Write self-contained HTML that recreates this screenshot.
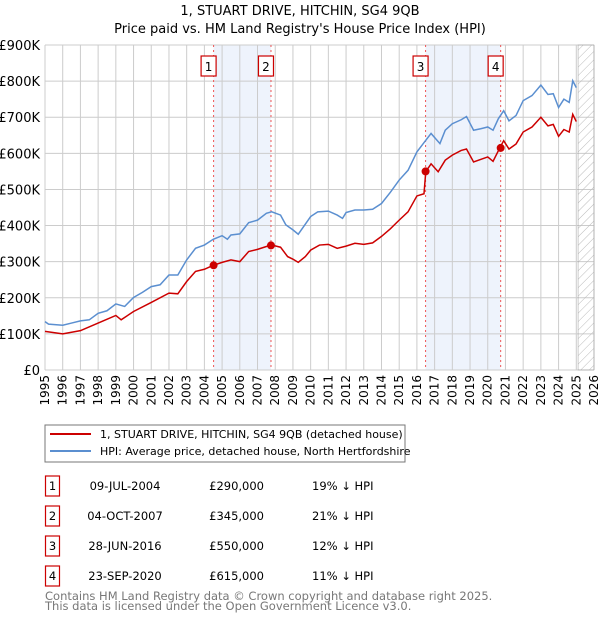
<!DOCTYPE html>
<html><head><meta charset="utf-8"><style>
body{margin:0;background:#fff;font-family:"Liberation Sans","DejaVu Sans",sans-serif;}
svg text{font-family:"DejaVu Sans","Liberation Sans",sans-serif;}
</style></head><body>
<svg id="chart" width="600" height="620" viewBox="0 0 600 620" xmlns="http://www.w3.org/2000/svg">
<defs><pattern id="hatch" width="6" height="6" patternUnits="userSpaceOnUse" patternTransform="rotate(45)"><line x1="0" y1="0" x2="0" y2="6" stroke="#bbb" stroke-width="1"/></pattern></defs>
<text x="300" y="15" text-anchor="middle" font-size="13">1, STUART DRIVE, HITCHIN, SG4 9QB</text>
<text x="300" y="33" text-anchor="middle" font-size="13">Price paid vs. HM Land Registry's House Price Index (HPI)</text>
<g id="grid"></g><g id="marks"></g><g id="axes"></g>
<g>
<rect x="45" y="425" width="360" height="37" fill="#fff" stroke="#777" stroke-width="1"/>
<line x1="50" y1="434" x2="91" y2="434" stroke="#cc0000" stroke-width="2"/>
<text x="100" y="438" font-size="11">1, STUART DRIVE, HITCHIN, SG4 9QB (detached house)</text>
<line x1="50" y1="451" x2="91" y2="451" stroke="#5b8fd0" stroke-width="2"/>
<text x="100" y="455" font-size="11">HPI: Average price, detached house, North Hertfordshire</text>
</g>
<g id="table"></g>
<text x="45" y="600" font-size="11.5" fill="#777">Contains HM Land Registry data © Crown copyright and database right 2025.</text>
<text x="45" y="610" font-size="11.5" fill="#777">This data is licensed under the Open Government Licence v3.0.</text>
</svg>
<script>
const yTicks=[0,100,200,300,400,500,600,700,800,900];
const yTickLabels=["£0","£100K","£200K","£300K","£400K","£500K","£600K","£700K","£800K","£900K"];
const years=[1995,1996,1997,1998,1999,2000,2001,2002,2003,2004,2005,2006,2007,2008,2009,2010,2011,2012,2013,2014,2015,2016,2017,2018,2019,2020,2021,2022,2023,2024,2025,2026];
const hpiT=[1995,1995.2,1996,1996.5,1997,1997.5,1998,1998.5,1999,1999.5,2000,2000.5,2001,2001.5,2002,2002.5,2003,2003.5,2004,2004.5,2005,2005.3,2005.5,2006,2006.5,2007,2007.5,2007.8,2008.3,2008.6,2009,2009.3,2009.6,2010,2010.4,2011,2011.5,2011.8,2012,2012.5,2013,2013.5,2014,2014.5,2015,2015.5,2016,2016.5,2016.8,2017.3,2017.6,2018,2018.5,2018.8,2019.2,2019.6,2020,2020.3,2020.6,2020.9,2021.2,2021.6,2022,2022.5,2023,2023.4,2023.7,2024,2024.3,2024.6,2024.8,2025.0];
const hpiV=[134,127,124,130,136,139,157,164,183,176,201,215,231,236,263,263,305,337,346,362,372,362,374,377,408,415,434,438,429,402,388,376,397,425,438,440,429,420,436,443,443,445,461,492,526,553,604,636,655,627,664,682,693,702,664,668,673,664,696,718,690,705,746,760,789,763,765,727,750,741,801,782];
const redT=[1995,1996,1997,1998,1999,1999.3,2000,2001,2002,2002.5,2003,2003.5,2004,2004.5,2005,2005.5,2006,2006.5,2007,2007.5,2007.8,2008.3,2008.7,2009,2009.3,2009.7,2010,2010.5,2011,2011.5,2012,2012.5,2013,2013.5,2014,2014.5,2015,2015.5,2016,2016.4,2016.5,2016.8,2017.2,2017.6,2018,2018.5,2018.8,2019.2,2019.6,2020,2020.3,2020.7,2020.9,2021.2,2021.6,2022,2022.5,2023,2023.4,2023.7,2024,2024.3,2024.6,2024.8,2025.0];
const redV=[107,100,109,130,151,139,162,187,213,211,245,273,279,290,298,305,300,328,334,342,346,340,314,307,298,314,332,346,348,337,343,351,348,352,370,391,415,438,482,488,549,571,549,581,595,608,612,576,583,590,578,617,635,612,626,659,673,700,676,680,647,666,659,708,688];
const saleNums=["1","2","3","4"];
const saleT=[2004.52,2007.76,2016.49,2020.73];
const saleV=[290,345,550,615];
const saleDates=["09-JUL-2004","04-OCT-2007","28-JUN-2016","23-SEP-2020"];
const salePrices=["£290,000","£345,000","£550,000","£615,000"];
const salePct=["19% ↓ HPI","21% ↓ HPI","12% ↓ HPI","11% ↓ HPI"];
const NS="http://www.w3.org/2000/svg";
const X0=45,X1=594,T0=1995,T1=2026,Y0=370,Y1=45,V1=900,HATCH=2025.1;
const xs=t=>X0+(t-T0)/(T1-T0)*(X1-X0);
const ys=v=>Y0-v/V1*(Y0-Y1);
function mk(tag,attrs,parent){const e=document.createElementNS(NS,tag);for(const k in attrs)e.setAttribute(k,attrs[k]);parent.appendChild(e);return e;}
const grid=document.getElementById('grid'),marks=document.getElementById('marks'),axes=document.getElementById('axes'),table=document.getElementById('table');
mk('rect',{x:X0,y:Y1,width:X1-X0,height:Y0-Y1,fill:'#fff'},grid);
for(let i=0;i<saleT.length;i+=2){const r=mk('rect',{x:xs(saleT[i]),y:Y1,width:xs(saleT[i+1])-xs(saleT[i]),height:Y0-Y1,fill:'#eef3fc'},grid);

}
years.forEach(y=>{mk('line',{x1:xs(y),x2:xs(y),y1:Y1,y2:Y0,stroke:'#ccc','stroke-width':1},grid);});
yTicks.forEach((v,i)=>{mk('line',{x1:X0,x2:X1,y1:ys(v),y2:ys(v),stroke:'#ccc','stroke-width':1},grid);
const t=mk('text',{x:40,y:ys(v)+5,'text-anchor':'end','font-size':13},axes);t.textContent=yTickLabels[i];

});
const h=mk('rect',{x:xs(HATCH),y:Y1,width:X1-xs(HATCH),height:Y0-Y1,fill:'url(#hatch)',stroke:'#999','stroke-width':0.5},grid);


years.forEach(y=>{const t=mk('text',{x:0,y:0,'font-size':12,transform:`translate(${xs(y)+4},${Y0+5}) rotate(-90)`,'text-anchor':'end'},axes);t.textContent=y;

});
saleT.forEach((t,i)=>{const l=mk('line',{x1:xs(t),x2:xs(t),y1:Y1,y2:Y0,stroke:'#e55','stroke-width':1,'stroke-dasharray':'2,3'},marks);


const b=mk('rect',{x:xs(t)-12.5,y:56,width:15,height:20,fill:'#fff',stroke:'#c00','stroke-width':1.2},marks);


const tx=mk('text',{x:xs(t)-5,y:71,'text-anchor':'middle','font-size':12},marks);tx.textContent=saleNums[i];});
const hp=mk('polyline',{points:hpiT.map((t,i)=>xs(t)+','+ys(hpiV[i])).join(' '),fill:'none',stroke:'#5b8fd0','stroke-width':1.5},marks);


const rp=mk('polyline',{points:redT.map((t,i)=>xs(t)+','+ys(redV[i])).join(' '),fill:'none',stroke:'#cc0000','stroke-width':1.5},marks);


saleT.forEach((t,i)=>{const c=mk('circle',{cx:xs(t),cy:ys(saleV[i]),r:4,fill:'#cc0000'},marks);

});
saleNums.forEach((n,i)=>{const y=483+i*30;
const b=mk('rect',{x:45.5,y:y-7,width:14,height:20,fill:'#fff',stroke:'#c00','stroke-width':1.2},table);


const a=mk('text',{x:52.5,y:y+7,'text-anchor':'middle','font-size':11.5},table);a.textContent=n;
const d=mk('text',{x:125,y:y+7,'text-anchor':'middle','font-size':11.5},table);d.textContent=saleDates[i];


const p=mk('text',{x:264,y:y+7,'text-anchor':'end','font-size':11.5},table);p.textContent=salePrices[i];


const q=mk('text',{x:312,y:y+7,'font-size':11.5},table);q.textContent=salePct[i];

});
</script>
</body></html>
